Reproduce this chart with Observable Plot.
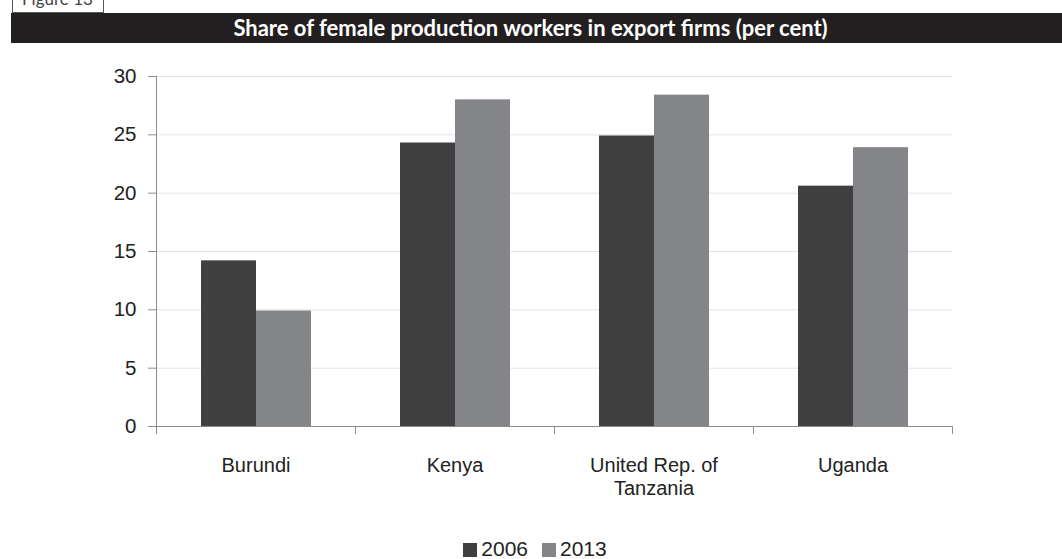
<!DOCTYPE html>
<html>
<head>
<meta charset="utf-8">
<script src="https://cdn.jsdelivr.net/npm/d3@7"></script>
<script src="https://cdn.jsdelivr.net/npm/@observablehq/plot@0.6"></script>
<style>
  html, body { margin: 0; padding: 0; background: #fff; }
  #wrap { position: relative; width: 1062px; height: 559px; overflow: hidden; font-family: "Liberation Sans", Arial, sans-serif; }
  #tab { position: absolute; left: 12px; top: -2px; width: 92px; height: 15px; border: 1px solid #555; border-top: none; box-sizing: border-box; overflow: hidden; }
  #tab span { position: absolute; left: 9px; top: -10px; font: 17px Lato, sans-serif; color: #444; white-space: nowrap; }
  #band { position: absolute; left: 11px; right: 0; top: 13px; height: 30px; background: #231f20; color: #fff; font: bold 22px Lato, "Open Sans", sans-serif; text-align: center; line-height: 30px; padding-right: 12px; box-sizing: border-box; }
  #chart { position: absolute; left: 0; top: 43px; }
  #legend { position: absolute; left: 0; width: 1062px; top: 537px; text-align: center; font-size: 21px; color: #222; line-height: 24px; padding-left: 8px; box-sizing: border-box; }
  #legend .sw { display: inline-block; width: 14px; height: 14px; vertical-align: -1px; margin-right: 4px; }
  #legend .item { margin: 0 7px; }
</style>
</head>
<body>
<div id="wrap">
  <div id="tab"><span>Figure 13</span></div>
  <div id="band">Share of female production workers in export firms (per cent)</div>
  <div id="chart"></div>
  <div id="legend"></div>
</div>
<script>
const countries = ["Burundi", "Kenya", "United Rep. of\nTanzania", "Uganda"];
const years = ["2006", "2013"];
const values2006 = [14.2, 24.3, 24.9, 20.6];
const values2013 = [9.9, 28.0, 28.4, 23.9];
const yTicks = [0, 5, 10, 15, 20, 25, 30];
const colors = ["#404040", "#848589"];

const data = [];
countries.forEach((c, i) => {
  data.push({country: c, year: years[0], value: values2006[i]});
  data.push({country: c, year: years[1], value: values2013[i]});
});

const chart = Plot.plot({
  width: 1062,
  height: 492,
  marginLeft: 155,
  marginRight: 109,
  marginTop: 33,
  marginBottom: 109,
  style: {fontFamily: "'Liberation Sans', Arial, sans-serif", fontSize: "20px", color: "#222", background: "#fff"},
  fx: {domain: countries, padding: 0, label: null},
  x: {domain: years, paddingInner: 0, paddingOuter: 0.78, axis: null},
  y: {domain: [0, 30], ticks: yTicks, label: null},
  color: {domain: years, range: colors},
  marks: [
    Plot.gridY(yTicks, {stroke: "#e3e3e3", strokeOpacity: 1, strokeWidth: 1}),
    Plot.barY(data, {fx: "country", x: "year", y: "value", fill: "year", inset: 0}),
    Plot.ruleY([0], {stroke: "#8c8c8c", strokeWidth: 1}),
    Plot.frame({anchor: "left", stroke: "#8c8c8c", insetTop: 350, insetBottom: -7}),
    Plot.frame({anchor: "right", stroke: "#8c8c8c", insetTop: 350, insetBottom: -7}),
    Plot.frame({anchor: "left", stroke: "#8c8c8c", facetAnchor: "left"}),
    Plot.axisY(yTicks, {tickSize: 8, tickPadding: 12, stroke: "#8c8c8c", fontSize: 20.5, fill: "#222"}),
    Plot.axisFx({anchor: "bottom", tickSize: 0, tickPadding: 29, fontSize: 20, lineHeight: 1.15, fill: "#222", label: null})
  ]
});
document.getElementById("chart").appendChild(chart);

const legend = document.getElementById("legend");
years.forEach((y, i) => {
  const item = document.createElement("span");
  item.className = "item";
  const sw = document.createElement("span");
  sw.className = "sw";
  sw.style.background = colors[i];
  item.appendChild(sw);
  item.appendChild(document.createTextNode(y));
  legend.appendChild(item);
});
</script>
</body>
</html>
